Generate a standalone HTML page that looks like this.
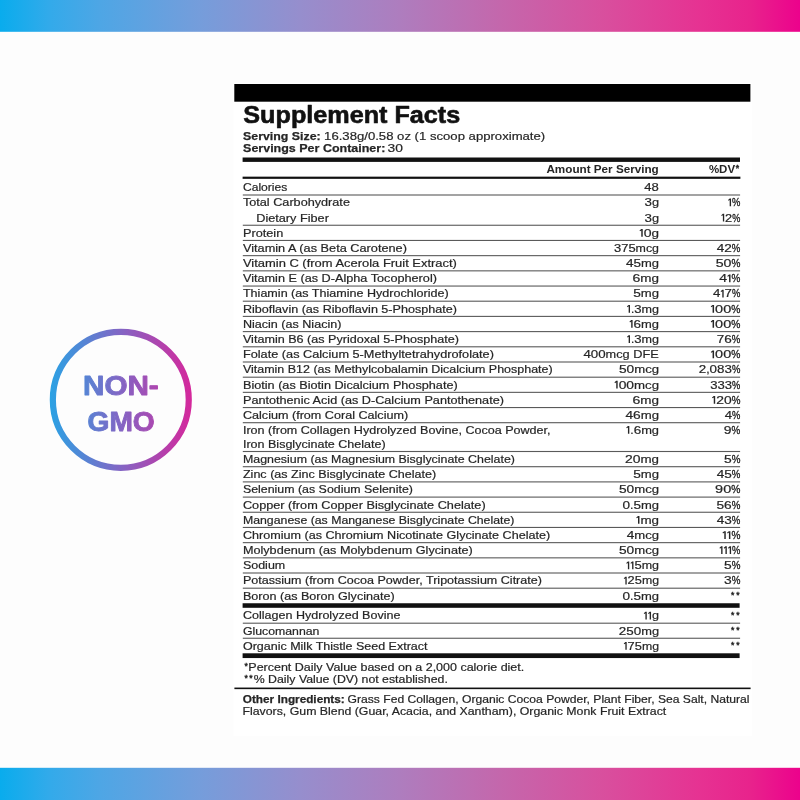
<!DOCTYPE html>
<html lang="en">
<head>
<meta charset="utf-8">
<title>Supplement Facts</title>
<style>
html,body{margin:0;padding:0;background:#fdfdfd;}
body{width:800px;height:800px;overflow:hidden;font-family:"Liberation Sans",sans-serif;}
svg{display:block;will-change:transform;}
svg text{font-family:"Liberation Sans",sans-serif;}
</style>
</head>
<body>
<svg width="800" height="800" viewBox="0 0 800 800">
<defs>
<linearGradient id="band" x1="0" y1="0" x2="1" y2="0"><stop offset="0" stop-color="rgb(9,172,237)"/><stop offset="0.0625" stop-color="rgb(51,170,234)"/><stop offset="0.125" stop-color="rgb(78,166,229)"/><stop offset="0.25" stop-color="rgb(117,157,219)"/><stop offset="0.375" stop-color="rgb(150,142,205)"/><stop offset="0.5" stop-color="rgb(174,125,190)"/><stop offset="0.625" stop-color="rgb(196,103,172)"/><stop offset="0.75" stop-color="rgb(216,80,158)"/><stop offset="0.875" stop-color="rgb(230,50,146)"/><stop offset="0.9375" stop-color="rgb(232,35,140)"/><stop offset="1" stop-color="rgb(236,2,140)"/></linearGradient>
<linearGradient id="ring" gradientUnits="userSpaceOnUse" x1="49.5" y1="0" x2="192.5" y2="0">
<stop offset="0" stop-color="#2aa2e4"/><stop offset="0.5" stop-color="#8365c4"/><stop offset="1" stop-color="#d6279b"/>
</linearGradient>
</defs>
<rect x="0" y="0" width="800" height="800" fill="#fdfdfd"/>
<rect x="0" y="0" width="800" height="31.8" fill="url(#band)"/>
<rect x="0" y="767.8" width="800" height="32.2" fill="url(#band)"/>
<rect x="233.6" y="83.2" width="518.4" height="652.8" fill="#ffffff"/>

<circle cx="120.8" cy="399.85" r="67.95" fill="none" stroke="url(#ring)" stroke-width="6.2"/>
<text x="82.97" y="395.30" font-size="27.2" font-weight="bold" textLength="75.77" lengthAdjust="spacingAndGlyphs" fill="url(#ring)" stroke="url(#ring)" stroke-width="0.9" stroke-linejoin="round">NON-</text>
<text x="87.50" y="430.50" font-size="27.2" font-weight="bold" textLength="67.24" lengthAdjust="spacingAndGlyphs" fill="url(#ring)" stroke="url(#ring)" stroke-width="0.9" stroke-linejoin="round">GMO</text>
<rect x="234.3" y="84" width="516.1" height="17.7" fill="#000"/>
<text x="243.32" y="123.10" font-size="23.2" font-weight="bold" textLength="216.91" lengthAdjust="spacingAndGlyphs" fill="#111" stroke="#111" stroke-width="0.6" stroke-linejoin="round">Supplement Facts</text>
<text x="243.07" y="140.00" font-size="11.6" font-weight="bold" textLength="77.59" lengthAdjust="spacingAndGlyphs" fill="#262626" stroke="#262626" stroke-width="0.25" stroke-linejoin="round">Serving Size:</text>
<text x="324.10" y="140.00" font-size="11.6" textLength="221.11" lengthAdjust="spacingAndGlyphs" fill="#262626" stroke="#262626" stroke-width="0.2" stroke-linejoin="round">16.38g/0.58 oz (1 scoop approximate)</text>
<text x="243.07" y="152.00" font-size="11.6" font-weight="bold" textLength="142.26" lengthAdjust="spacingAndGlyphs" fill="#262626" stroke="#262626" stroke-width="0.25" stroke-linejoin="round">Servings Per Container:</text>
<text x="387.57" y="152.00" font-size="11.6" textLength="15.37" lengthAdjust="spacingAndGlyphs" fill="#262626" stroke="#262626" stroke-width="0.2" stroke-linejoin="round">30</text>
<rect x="242.6" y="157.5" width="497.4" height="4.4" fill="#111"/>
<text x="546.41" y="172.60" font-size="10.9" font-weight="bold" textLength="112.37" lengthAdjust="spacingAndGlyphs" fill="#262626">Amount Per Serving</text>
<text x="708.91" y="172.60" font-size="10.9" font-weight="bold" textLength="26.16" lengthAdjust="spacingAndGlyphs" fill="#262626">%DV</text>
<text x="735.76" y="171.25" font-size="8.6" font-weight="bold" fill="#262626" stroke="#262626" stroke-width="0.3">*</text>
<rect x="242.6" y="176.65" width="497.8" height="2.2" fill="#111"/>
<text x="242.95" y="191.25" font-size="11.0" textLength="44.39" lengthAdjust="spacingAndGlyphs" fill="#262626" stroke="#262626" stroke-width="0.2" stroke-linejoin="round">Calories</text>
<text x="644.20" y="191.25" font-size="11.0" textLength="14.57" lengthAdjust="spacingAndGlyphs" fill="#262626" stroke="#262626" stroke-width="0.2">48</text>
<rect x="242.8" y="194.45" width="497.3" height="1.1" fill="#5a5a5a"/>
<text x="242.95" y="206.30" font-size="11.0" textLength="107.01" lengthAdjust="spacingAndGlyphs" fill="#262626" stroke="#262626" stroke-width="0.2" stroke-linejoin="round">Total Carbohydrate</text>
<text x="644.49" y="206.30" font-size="11.0" textLength="7.42" lengthAdjust="spacingAndGlyphs" fill="#262626" stroke="#262626" stroke-width="0.2">3</text><text x="651.91" y="206.30" font-size="11.0" textLength="7.11" lengthAdjust="spacingAndGlyphs" fill="#262626" stroke="#262626" stroke-width="0.2">g</text>
<path transform="translate(727.70,206.30) scale(1.014,1.000)" d="M1.95,-7.75H3.3V0H1.95V-6.3L0.8,-5.45L0.3,-6.3Z" fill="#262626"/><text x="732.00" y="206.30" font-size="11.0" textLength="8.33" lengthAdjust="spacingAndGlyphs" fill="#262626" stroke="#262626" stroke-width="0.35">%</text>
<text x="256.25" y="221.50" font-size="11.0" textLength="72.61" lengthAdjust="spacingAndGlyphs" fill="#262626" stroke="#262626" stroke-width="0.2" stroke-linejoin="round">Dietary Fiber</text>
<text x="644.49" y="221.50" font-size="11.0" textLength="7.42" lengthAdjust="spacingAndGlyphs" fill="#262626" stroke="#262626" stroke-width="0.2">3</text><text x="651.91" y="221.50" font-size="11.0" textLength="7.11" lengthAdjust="spacingAndGlyphs" fill="#262626" stroke="#262626" stroke-width="0.2">g</text>
<path transform="translate(720.96,221.50) scale(0.981,1.000)" d="M1.95,-7.75H3.3V0H1.95V-6.3L0.8,-5.45L0.3,-6.3Z" fill="#262626"/><text x="725.12" y="221.50" font-size="11.0" textLength="7.14" lengthAdjust="spacingAndGlyphs" fill="#262626" stroke="#262626" stroke-width="0.2">2</text><text x="732.26" y="221.50" font-size="11.0" textLength="8.06" lengthAdjust="spacingAndGlyphs" fill="#262626" stroke="#262626" stroke-width="0.35">%</text>
<rect x="242.8" y="224.70" width="497.3" height="1.1" fill="#5a5a5a"/>
<text x="242.95" y="236.70" font-size="11.0" textLength="40.28" lengthAdjust="spacingAndGlyphs" fill="#262626" stroke="#262626" stroke-width="0.2" stroke-linejoin="round">Protein</text>
<path transform="translate(639.18,236.70) scale(1.075,1.000)" d="M1.95,-7.75H3.3V0H1.95V-6.3L0.8,-5.45L0.3,-6.3Z" fill="#262626"/><text x="643.75" y="236.70" font-size="11.0" textLength="7.83" lengthAdjust="spacingAndGlyphs" fill="#262626" stroke="#262626" stroke-width="0.2">0</text><text x="651.57" y="236.70" font-size="11.0" textLength="7.50" lengthAdjust="spacingAndGlyphs" fill="#262626" stroke="#262626" stroke-width="0.2">g</text>
<rect x="242.8" y="239.90" width="497.3" height="1.1" fill="#5a5a5a"/>
<text x="242.95" y="251.90" font-size="11.0" textLength="163.98" lengthAdjust="spacingAndGlyphs" fill="#262626" stroke="#262626" stroke-width="0.2" stroke-linejoin="round">Vitamin A (as Beta Carotene)</text>
<text x="614.01" y="251.90" font-size="11.0" textLength="21.58" lengthAdjust="spacingAndGlyphs" fill="#262626" stroke="#262626" stroke-width="0.2">375</text><text x="635.59" y="251.90" font-size="11.0" textLength="23.41" lengthAdjust="spacingAndGlyphs" fill="#262626" stroke="#262626" stroke-width="0.2">mcg</text>
<text x="716.69" y="251.90" font-size="11.0" textLength="15.12" lengthAdjust="spacingAndGlyphs" fill="#262626" stroke="#262626" stroke-width="0.2">42</text><text x="731.81" y="251.90" font-size="11.0" textLength="8.53" lengthAdjust="spacingAndGlyphs" fill="#262626" stroke="#262626" stroke-width="0.35">%</text>
<rect x="242.8" y="255.10" width="497.3" height="1.1" fill="#5a5a5a"/>
<text x="242.95" y="267.10" font-size="11.0" textLength="214.00" lengthAdjust="spacingAndGlyphs" fill="#262626" stroke="#262626" stroke-width="0.2" stroke-linejoin="round">Vitamin C (from Acerola Fruit Extract)</text>
<text x="625.94" y="267.10" font-size="11.0" textLength="15.07" lengthAdjust="spacingAndGlyphs" fill="#262626" stroke="#262626" stroke-width="0.2">45</text><text x="641.01" y="267.10" font-size="11.0" textLength="18.03" lengthAdjust="spacingAndGlyphs" fill="#262626" stroke="#262626" stroke-width="0.2">mg</text>
<text x="715.68" y="267.10" font-size="11.0" textLength="15.77" lengthAdjust="spacingAndGlyphs" fill="#262626" stroke="#262626" stroke-width="0.2">50</text><text x="731.46" y="267.10" font-size="11.0" textLength="8.90" lengthAdjust="spacingAndGlyphs" fill="#262626" stroke="#262626" stroke-width="0.35">%</text>
<rect x="242.8" y="270.30" width="497.3" height="1.1" fill="#5a5a5a"/>
<text x="242.95" y="282.30" font-size="11.0" textLength="193.98" lengthAdjust="spacingAndGlyphs" fill="#262626" stroke="#262626" stroke-width="0.2" stroke-linejoin="round">Vitamin E (as D-Alpha Tocopherol)</text>
<text x="632.54" y="282.30" font-size="11.0" textLength="7.82" lengthAdjust="spacingAndGlyphs" fill="#262626" stroke="#262626" stroke-width="0.2">6</text><text x="640.36" y="282.30" font-size="11.0" textLength="18.71" lengthAdjust="spacingAndGlyphs" fill="#262626" stroke="#262626" stroke-width="0.2">mg</text>
<text x="719.18" y="282.30" font-size="11.0" textLength="7.81" lengthAdjust="spacingAndGlyphs" fill="#262626" stroke="#262626" stroke-width="0.2">4</text><path transform="translate(726.98,282.30) scale(1.072,1.000)" d="M1.95,-7.75H3.3V0H1.95V-6.3L0.8,-5.45L0.3,-6.3Z" fill="#262626"/><text x="731.54" y="282.30" font-size="11.0" textLength="8.81" lengthAdjust="spacingAndGlyphs" fill="#262626" stroke="#262626" stroke-width="0.35">%</text>
<rect x="242.8" y="285.50" width="497.3" height="1.1" fill="#5a5a5a"/>
<text x="242.95" y="297.45" font-size="11.0" textLength="205.73" lengthAdjust="spacingAndGlyphs" fill="#262626" stroke="#262626" stroke-width="0.2" stroke-linejoin="round">Thiamin (as Thiamine Hydrochloride)</text>
<text x="633.20" y="297.45" font-size="11.0" textLength="7.62" lengthAdjust="spacingAndGlyphs" fill="#262626" stroke="#262626" stroke-width="0.2">5</text><text x="640.82" y="297.45" font-size="11.0" textLength="18.23" lengthAdjust="spacingAndGlyphs" fill="#262626" stroke="#262626" stroke-width="0.2">mg</text>
<text x="712.95" y="297.45" font-size="11.0" textLength="7.38" lengthAdjust="spacingAndGlyphs" fill="#262626" stroke="#262626" stroke-width="0.2">4</text><path transform="translate(720.32,297.45) scale(1.013,1.000)" d="M1.95,-7.75H3.3V0H1.95V-6.3L0.8,-5.45L0.3,-6.3Z" fill="#262626"/><text x="724.63" y="297.45" font-size="11.0" textLength="7.38" lengthAdjust="spacingAndGlyphs" fill="#262626" stroke="#262626" stroke-width="0.2">7</text><text x="732.01" y="297.45" font-size="11.0" textLength="8.33" lengthAdjust="spacingAndGlyphs" fill="#262626" stroke="#262626" stroke-width="0.35">%</text>
<rect x="242.8" y="300.65" width="497.3" height="1.1" fill="#5a5a5a"/>
<text x="242.95" y="312.65" font-size="11.0" textLength="213.98" lengthAdjust="spacingAndGlyphs" fill="#262626" stroke="#262626" stroke-width="0.2" stroke-linejoin="round">Riboflavin (as Riboflavin 5-Phosphate)</text>
<path transform="translate(626.70,312.65) scale(1.002,1.000)" d="M1.95,-7.75H3.3V0H1.95V-6.3L0.8,-5.45L0.3,-6.3Z" fill="#262626"/><text x="630.96" y="312.65" font-size="11.0" textLength="3.31" lengthAdjust="spacingAndGlyphs" fill="#262626" stroke="#262626" stroke-width="0.2">.</text><text x="634.26" y="312.65" font-size="11.0" textLength="7.29" lengthAdjust="spacingAndGlyphs" fill="#262626" stroke="#262626" stroke-width="0.2">3</text><text x="641.56" y="312.65" font-size="11.0" textLength="17.45" lengthAdjust="spacingAndGlyphs" fill="#262626" stroke="#262626" stroke-width="0.2">mg</text>
<path transform="translate(710.42,312.65) scale(1.108,1.000)" d="M1.95,-7.75H3.3V0H1.95V-6.3L0.8,-5.45L0.3,-6.3Z" fill="#262626"/><text x="715.13" y="312.65" font-size="11.0" textLength="16.13" lengthAdjust="spacingAndGlyphs" fill="#262626" stroke="#262626" stroke-width="0.2">00</text><text x="731.26" y="312.65" font-size="11.0" textLength="9.10" lengthAdjust="spacingAndGlyphs" fill="#262626" stroke="#262626" stroke-width="0.35">%</text>
<rect x="242.8" y="315.85" width="497.3" height="1.1" fill="#5a5a5a"/>
<text x="242.95" y="327.85" font-size="11.0" textLength="98.48" lengthAdjust="spacingAndGlyphs" fill="#262626" stroke="#262626" stroke-width="0.2" stroke-linejoin="round">Niacin (as Niacin)</text>
<path transform="translate(629.19,327.85) scale(1.031,1.000)" d="M1.95,-7.75H3.3V0H1.95V-6.3L0.8,-5.45L0.3,-6.3Z" fill="#262626"/><text x="633.57" y="327.85" font-size="11.0" textLength="7.50" lengthAdjust="spacingAndGlyphs" fill="#262626" stroke="#262626" stroke-width="0.2">6</text><text x="641.08" y="327.85" font-size="11.0" textLength="17.96" lengthAdjust="spacingAndGlyphs" fill="#262626" stroke="#262626" stroke-width="0.2">mg</text>
<path transform="translate(710.42,327.85) scale(1.108,1.000)" d="M1.95,-7.75H3.3V0H1.95V-6.3L0.8,-5.45L0.3,-6.3Z" fill="#262626"/><text x="715.13" y="327.85" font-size="11.0" textLength="16.13" lengthAdjust="spacingAndGlyphs" fill="#262626" stroke="#262626" stroke-width="0.2">00</text><text x="731.26" y="327.85" font-size="11.0" textLength="9.10" lengthAdjust="spacingAndGlyphs" fill="#262626" stroke="#262626" stroke-width="0.35">%</text>
<rect x="242.8" y="331.05" width="497.3" height="1.1" fill="#5a5a5a"/>
<text x="242.95" y="343.05" font-size="11.0" textLength="215.98" lengthAdjust="spacingAndGlyphs" fill="#262626" stroke="#262626" stroke-width="0.2" stroke-linejoin="round">Vitamin B6 (as Pyridoxal 5-Phosphate)</text>
<path transform="translate(626.70,343.05) scale(1.002,1.000)" d="M1.95,-7.75H3.3V0H1.95V-6.3L0.8,-5.45L0.3,-6.3Z" fill="#262626"/><text x="630.96" y="343.05" font-size="11.0" textLength="3.31" lengthAdjust="spacingAndGlyphs" fill="#262626" stroke="#262626" stroke-width="0.2">.</text><text x="634.26" y="343.05" font-size="11.0" textLength="7.29" lengthAdjust="spacingAndGlyphs" fill="#262626" stroke="#262626" stroke-width="0.2">3</text><text x="641.56" y="343.05" font-size="11.0" textLength="17.45" lengthAdjust="spacingAndGlyphs" fill="#262626" stroke="#262626" stroke-width="0.2">mg</text>
<text x="716.81" y="343.05" font-size="11.0" textLength="15.04" lengthAdjust="spacingAndGlyphs" fill="#262626" stroke="#262626" stroke-width="0.2">76</text><text x="731.85" y="343.05" font-size="11.0" textLength="8.49" lengthAdjust="spacingAndGlyphs" fill="#262626" stroke="#262626" stroke-width="0.35">%</text>
<rect x="242.8" y="346.25" width="497.3" height="1.1" fill="#5a5a5a"/>
<text x="242.95" y="358.25" font-size="11.0" textLength="250.99" lengthAdjust="spacingAndGlyphs" fill="#262626" stroke="#262626" stroke-width="0.2" stroke-linejoin="round">Folate (as Calcium 5-Methyltetrahydrofolate)</text>
<text x="583.44" y="358.25" font-size="11.0" textLength="22.20" lengthAdjust="spacingAndGlyphs" fill="#262626" stroke="#262626" stroke-width="0.2">400</text><text x="605.64" y="358.25" font-size="11.0" textLength="53.11" lengthAdjust="spacingAndGlyphs" fill="#262626" stroke="#262626" stroke-width="0.2">mcg DFE</text>
<path transform="translate(710.42,358.25) scale(1.108,1.000)" d="M1.95,-7.75H3.3V0H1.95V-6.3L0.8,-5.45L0.3,-6.3Z" fill="#262626"/><text x="715.13" y="358.25" font-size="11.0" textLength="16.13" lengthAdjust="spacingAndGlyphs" fill="#262626" stroke="#262626" stroke-width="0.2">00</text><text x="731.26" y="358.25" font-size="11.0" textLength="9.10" lengthAdjust="spacingAndGlyphs" fill="#262626" stroke="#262626" stroke-width="0.35">%</text>
<rect x="242.8" y="361.45" width="497.3" height="1.1" fill="#5a5a5a"/>
<text x="242.95" y="373.45" font-size="11.0" textLength="309.72" lengthAdjust="spacingAndGlyphs" fill="#262626" stroke="#262626" stroke-width="0.2" stroke-linejoin="round">Vitamin B12 (as Methylcobalamin Dicalcium Phosphate)</text>
<text x="618.95" y="373.45" font-size="11.0" textLength="15.26" lengthAdjust="spacingAndGlyphs" fill="#262626" stroke="#262626" stroke-width="0.2">50</text><text x="634.21" y="373.45" font-size="11.0" textLength="24.83" lengthAdjust="spacingAndGlyphs" fill="#262626" stroke="#262626" stroke-width="0.2">mcg</text>
<text x="698.83" y="373.45" font-size="11.0" textLength="7.44" lengthAdjust="spacingAndGlyphs" fill="#262626" stroke="#262626" stroke-width="0.2">2</text><text x="706.26" y="373.45" font-size="11.0" textLength="3.37" lengthAdjust="spacingAndGlyphs" fill="#262626" stroke="#262626" stroke-width="0.2">,</text><text x="709.64" y="373.45" font-size="11.0" textLength="22.31" lengthAdjust="spacingAndGlyphs" fill="#262626" stroke="#262626" stroke-width="0.2">083</text><text x="731.94" y="373.45" font-size="11.0" textLength="8.39" lengthAdjust="spacingAndGlyphs" fill="#262626" stroke="#262626" stroke-width="0.35">%</text>
<rect x="242.8" y="376.65" width="497.3" height="1.1" fill="#5a5a5a"/>
<text x="242.95" y="388.60" font-size="11.0" textLength="214.74" lengthAdjust="spacingAndGlyphs" fill="#262626" stroke="#262626" stroke-width="0.2" stroke-linejoin="round">Biotin (as Biotin Dicalcium Phosphate)</text>
<path transform="translate(614.18,388.60) scale(1.056,1.000)" d="M1.95,-7.75H3.3V0H1.95V-6.3L0.8,-5.45L0.3,-6.3Z" fill="#262626"/><text x="618.67" y="388.60" font-size="11.0" textLength="15.37" lengthAdjust="spacingAndGlyphs" fill="#262626" stroke="#262626" stroke-width="0.2">00</text><text x="634.04" y="388.60" font-size="11.0" textLength="25.01" lengthAdjust="spacingAndGlyphs" fill="#262626" stroke="#262626" stroke-width="0.2">mcg</text>
<text x="710.25" y="388.60" font-size="11.0" textLength="21.86" lengthAdjust="spacingAndGlyphs" fill="#262626" stroke="#262626" stroke-width="0.2">333</text><text x="732.11" y="388.60" font-size="11.0" textLength="8.22" lengthAdjust="spacingAndGlyphs" fill="#262626" stroke="#262626" stroke-width="0.35">%</text>
<rect x="242.8" y="391.80" width="497.3" height="1.1" fill="#5a5a5a"/>
<text x="242.95" y="403.80" font-size="11.0" textLength="260.98" lengthAdjust="spacingAndGlyphs" fill="#262626" stroke="#262626" stroke-width="0.2" stroke-linejoin="round">Pantothenic Acid (as D-Calcium Pantothenate)</text>
<text x="632.54" y="403.80" font-size="11.0" textLength="7.82" lengthAdjust="spacingAndGlyphs" fill="#262626" stroke="#262626" stroke-width="0.2">6</text><text x="640.36" y="403.80" font-size="11.0" textLength="18.71" lengthAdjust="spacingAndGlyphs" fill="#262626" stroke="#262626" stroke-width="0.2">mg</text>
<path transform="translate(711.68,403.80) scale(1.061,1.000)" d="M1.95,-7.75H3.3V0H1.95V-6.3L0.8,-5.45L0.3,-6.3Z" fill="#262626"/><text x="716.19" y="403.80" font-size="11.0" textLength="15.44" lengthAdjust="spacingAndGlyphs" fill="#262626" stroke="#262626" stroke-width="0.2">20</text><text x="731.63" y="403.80" font-size="11.0" textLength="8.71" lengthAdjust="spacingAndGlyphs" fill="#262626" stroke="#262626" stroke-width="0.35">%</text>
<rect x="242.8" y="407.00" width="497.3" height="1.1" fill="#5a5a5a"/>
<text x="242.95" y="418.95" font-size="11.0" textLength="165.23" lengthAdjust="spacingAndGlyphs" fill="#262626" stroke="#262626" stroke-width="0.2" stroke-linejoin="round">Calcium (from Coral Calcium)</text>
<text x="625.43" y="418.95" font-size="11.0" textLength="15.30" lengthAdjust="spacingAndGlyphs" fill="#262626" stroke="#262626" stroke-width="0.2">46</text><text x="640.74" y="418.95" font-size="11.0" textLength="18.31" lengthAdjust="spacingAndGlyphs" fill="#262626" stroke="#262626" stroke-width="0.2">mg</text>
<text x="724.70" y="418.95" font-size="11.0" textLength="7.35" lengthAdjust="spacingAndGlyphs" fill="#262626" stroke="#262626" stroke-width="0.2">4</text><text x="732.04" y="418.95" font-size="11.0" textLength="8.29" lengthAdjust="spacingAndGlyphs" fill="#262626" stroke="#262626" stroke-width="0.35">%</text>
<rect x="242.8" y="422.15" width="497.3" height="1.1" fill="#5a5a5a"/>
<text x="242.95" y="433.80" font-size="11.0" textLength="307.57" lengthAdjust="spacingAndGlyphs" fill="#262626" stroke="#262626" stroke-width="0.2" stroke-linejoin="round">Iron (from Collagen Hydrolyzed Bovine, Cocoa Powder,</text>
<path transform="translate(625.94,433.80) scale(1.026,1.000)" d="M1.95,-7.75H3.3V0H1.95V-6.3L0.8,-5.45L0.3,-6.3Z" fill="#262626"/><text x="630.30" y="433.80" font-size="11.0" textLength="3.39" lengthAdjust="spacingAndGlyphs" fill="#262626" stroke="#262626" stroke-width="0.2">.</text><text x="633.69" y="433.80" font-size="11.0" textLength="7.47" lengthAdjust="spacingAndGlyphs" fill="#262626" stroke="#262626" stroke-width="0.2">6</text><text x="641.16" y="433.80" font-size="11.0" textLength="17.87" lengthAdjust="spacingAndGlyphs" fill="#262626" stroke="#262626" stroke-width="0.2">mg</text>
<text x="723.85" y="433.80" font-size="11.0" textLength="7.75" lengthAdjust="spacingAndGlyphs" fill="#262626" stroke="#262626" stroke-width="0.2">9</text><text x="731.60" y="433.80" font-size="11.0" textLength="8.75" lengthAdjust="spacingAndGlyphs" fill="#262626" stroke="#262626" stroke-width="0.35">%</text>
<text x="242.95" y="447.75" font-size="11.0" textLength="142.73" lengthAdjust="spacingAndGlyphs" fill="#262626" stroke="#262626" stroke-width="0.2" stroke-linejoin="round">Iron Bisglycinate Chelate)</text>
<rect x="242.8" y="450.95" width="497.3" height="1.1" fill="#5a5a5a"/>
<text x="242.95" y="462.95" font-size="11.0" textLength="271.97" lengthAdjust="spacingAndGlyphs" fill="#262626" stroke="#262626" stroke-width="0.2" stroke-linejoin="round">Magnesium (as Magnesium Bisglycinate Chelate)</text>
<text x="625.05" y="462.95" font-size="11.0" textLength="15.48" lengthAdjust="spacingAndGlyphs" fill="#262626" stroke="#262626" stroke-width="0.2">20</text><text x="640.53" y="462.95" font-size="11.0" textLength="18.53" lengthAdjust="spacingAndGlyphs" fill="#262626" stroke="#262626" stroke-width="0.2">mg</text>
<text x="723.95" y="462.95" font-size="11.0" textLength="7.71" lengthAdjust="spacingAndGlyphs" fill="#262626" stroke="#262626" stroke-width="0.2">5</text><text x="731.65" y="462.95" font-size="11.0" textLength="8.70" lengthAdjust="spacingAndGlyphs" fill="#262626" stroke="#262626" stroke-width="0.35">%</text>
<rect x="242.8" y="466.15" width="497.3" height="1.1" fill="#5a5a5a"/>
<text x="242.95" y="478.15" font-size="11.0" textLength="193.23" lengthAdjust="spacingAndGlyphs" fill="#262626" stroke="#262626" stroke-width="0.2" stroke-linejoin="round">Zinc (as Zinc Bisglycinate Chelate)</text>
<text x="633.20" y="478.15" font-size="11.0" textLength="7.62" lengthAdjust="spacingAndGlyphs" fill="#262626" stroke="#262626" stroke-width="0.2">5</text><text x="640.82" y="478.15" font-size="11.0" textLength="18.23" lengthAdjust="spacingAndGlyphs" fill="#262626" stroke="#262626" stroke-width="0.2">mg</text>
<text x="716.69" y="478.15" font-size="11.0" textLength="15.12" lengthAdjust="spacingAndGlyphs" fill="#262626" stroke="#262626" stroke-width="0.2">45</text><text x="731.81" y="478.15" font-size="11.0" textLength="8.53" lengthAdjust="spacingAndGlyphs" fill="#262626" stroke="#262626" stroke-width="0.35">%</text>
<rect x="242.8" y="481.35" width="497.3" height="1.1" fill="#5a5a5a"/>
<text x="242.95" y="493.35" font-size="11.0" textLength="169.97" lengthAdjust="spacingAndGlyphs" fill="#262626" stroke="#262626" stroke-width="0.2" stroke-linejoin="round">Selenium (as Sodium Selenite)</text>
<text x="618.95" y="493.35" font-size="11.0" textLength="15.26" lengthAdjust="spacingAndGlyphs" fill="#262626" stroke="#262626" stroke-width="0.2">50</text><text x="634.21" y="493.35" font-size="11.0" textLength="24.83" lengthAdjust="spacingAndGlyphs" fill="#262626" stroke="#262626" stroke-width="0.2">mcg</text>
<text x="715.07" y="493.35" font-size="11.0" textLength="16.17" lengthAdjust="spacingAndGlyphs" fill="#262626" stroke="#262626" stroke-width="0.2">90</text><text x="731.24" y="493.35" font-size="11.0" textLength="9.13" lengthAdjust="spacingAndGlyphs" fill="#262626" stroke="#262626" stroke-width="0.35">%</text>
<rect x="242.8" y="496.55" width="497.3" height="1.1" fill="#5a5a5a"/>
<text x="242.95" y="508.50" font-size="11.0" textLength="242.74" lengthAdjust="spacingAndGlyphs" fill="#262626" stroke="#262626" stroke-width="0.2" stroke-linejoin="round">Copper (from Copper Bisglycinate Chelate)</text>
<text x="622.47" y="508.50" font-size="11.0" textLength="7.55" lengthAdjust="spacingAndGlyphs" fill="#262626" stroke="#262626" stroke-width="0.2">0</text><text x="630.02" y="508.50" font-size="11.0" textLength="3.42" lengthAdjust="spacingAndGlyphs" fill="#262626" stroke="#262626" stroke-width="0.2">.</text><text x="633.44" y="508.50" font-size="11.0" textLength="7.55" lengthAdjust="spacingAndGlyphs" fill="#262626" stroke="#262626" stroke-width="0.2">5</text><text x="640.98" y="508.50" font-size="11.0" textLength="18.06" lengthAdjust="spacingAndGlyphs" fill="#262626" stroke="#262626" stroke-width="0.2">mg</text>
<text x="716.45" y="508.50" font-size="11.0" textLength="15.28" lengthAdjust="spacingAndGlyphs" fill="#262626" stroke="#262626" stroke-width="0.2">56</text><text x="731.73" y="508.50" font-size="11.0" textLength="8.62" lengthAdjust="spacingAndGlyphs" fill="#262626" stroke="#262626" stroke-width="0.35">%</text>
<rect x="242.8" y="511.70" width="497.3" height="1.1" fill="#5a5a5a"/>
<text x="242.95" y="523.70" font-size="11.0" textLength="271.46" lengthAdjust="spacingAndGlyphs" fill="#262626" stroke="#262626" stroke-width="0.2" stroke-linejoin="round">Manganese (as Manganese Bisglycinate Chelate)</text>
<path transform="translate(635.93,523.70) scale(1.068,1.000)" d="M1.95,-7.75H3.3V0H1.95V-6.3L0.8,-5.45L0.3,-6.3Z" fill="#262626"/><text x="640.47" y="523.70" font-size="11.0" textLength="18.60" lengthAdjust="spacingAndGlyphs" fill="#262626" stroke="#262626" stroke-width="0.2">mg</text>
<text x="716.69" y="523.70" font-size="11.0" textLength="15.12" lengthAdjust="spacingAndGlyphs" fill="#262626" stroke="#262626" stroke-width="0.2">43</text><text x="731.81" y="523.70" font-size="11.0" textLength="8.53" lengthAdjust="spacingAndGlyphs" fill="#262626" stroke="#262626" stroke-width="0.35">%</text>
<rect x="242.8" y="526.90" width="497.3" height="1.1" fill="#5a5a5a"/>
<text x="242.95" y="538.90" font-size="11.0" textLength="307.23" lengthAdjust="spacingAndGlyphs" fill="#262626" stroke="#262626" stroke-width="0.2" stroke-linejoin="round">Chromium (as Chromium Nicotinate Glycinate Chelate)</text>
<text x="626.69" y="538.90" font-size="11.0" textLength="7.61" lengthAdjust="spacingAndGlyphs" fill="#262626" stroke="#262626" stroke-width="0.2">4</text><text x="634.29" y="538.90" font-size="11.0" textLength="24.75" lengthAdjust="spacingAndGlyphs" fill="#262626" stroke="#262626" stroke-width="0.2">mcg</text>
<path transform="translate(722.17,538.90) scale(1.088,1.000)" d="M1.95,-7.75H3.3V0H1.95V-6.3L0.8,-5.45L0.3,-6.3Z" fill="#262626"/><path transform="translate(726.80,538.90) scale(1.088,1.000)" d="M1.95,-7.75H3.3V0H1.95V-6.3L0.8,-5.45L0.3,-6.3Z" fill="#262626"/><text x="731.42" y="538.90" font-size="11.0" textLength="8.94" lengthAdjust="spacingAndGlyphs" fill="#262626" stroke="#262626" stroke-width="0.35">%</text>
<rect x="242.8" y="542.10" width="497.3" height="1.1" fill="#5a5a5a"/>
<text x="242.95" y="554.10" font-size="11.0" textLength="229.73" lengthAdjust="spacingAndGlyphs" fill="#262626" stroke="#262626" stroke-width="0.2" stroke-linejoin="round">Molybdenum (as Molybdenum Glycinate)</text>
<text x="618.95" y="554.10" font-size="11.0" textLength="15.26" lengthAdjust="spacingAndGlyphs" fill="#262626" stroke="#262626" stroke-width="0.2">50</text><text x="634.21" y="554.10" font-size="11.0" textLength="24.83" lengthAdjust="spacingAndGlyphs" fill="#262626" stroke="#262626" stroke-width="0.2">mcg</text>
<path transform="translate(719.20,554.10) scale(1.008,1.000)" d="M1.95,-7.75H3.3V0H1.95V-6.3L0.8,-5.45L0.3,-6.3Z" fill="#262626"/><path transform="translate(723.48,554.10) scale(1.008,1.000)" d="M1.95,-7.75H3.3V0H1.95V-6.3L0.8,-5.45L0.3,-6.3Z" fill="#262626"/><path transform="translate(727.77,554.10) scale(1.008,1.000)" d="M1.95,-7.75H3.3V0H1.95V-6.3L0.8,-5.45L0.3,-6.3Z" fill="#262626"/><text x="732.05" y="554.10" font-size="11.0" textLength="8.28" lengthAdjust="spacingAndGlyphs" fill="#262626" stroke="#262626" stroke-width="0.35">%</text>
<rect x="242.8" y="557.30" width="497.3" height="1.1" fill="#5a5a5a"/>
<text x="242.95" y="569.25" font-size="11.0" textLength="42.27" lengthAdjust="spacingAndGlyphs" fill="#262626" stroke="#262626" stroke-width="0.2" stroke-linejoin="round">Sodium</text>
<path transform="translate(625.95,569.25) scale(0.996,1.000)" d="M1.95,-7.75H3.3V0H1.95V-6.3L0.8,-5.45L0.3,-6.3Z" fill="#262626"/><path transform="translate(630.18,569.25) scale(0.996,1.000)" d="M1.95,-7.75H3.3V0H1.95V-6.3L0.8,-5.45L0.3,-6.3Z" fill="#262626"/><text x="634.41" y="569.25" font-size="11.0" textLength="7.25" lengthAdjust="spacingAndGlyphs" fill="#262626" stroke="#262626" stroke-width="0.2">5</text><text x="641.66" y="569.25" font-size="11.0" textLength="17.34" lengthAdjust="spacingAndGlyphs" fill="#262626" stroke="#262626" stroke-width="0.2">mg</text>
<text x="723.95" y="569.25" font-size="11.0" textLength="7.71" lengthAdjust="spacingAndGlyphs" fill="#262626" stroke="#262626" stroke-width="0.2">5</text><text x="731.65" y="569.25" font-size="11.0" textLength="8.70" lengthAdjust="spacingAndGlyphs" fill="#262626" stroke="#262626" stroke-width="0.35">%</text>
<rect x="242.8" y="572.45" width="497.3" height="1.1" fill="#5a5a5a"/>
<text x="242.95" y="584.45" font-size="11.0" textLength="298.97" lengthAdjust="spacingAndGlyphs" fill="#262626" stroke="#262626" stroke-width="0.2" stroke-linejoin="round">Potassium (from Cocoa Powder, Tripotassium Citrate)</text>
<path transform="translate(623.46,584.45) scale(0.981,1.000)" d="M1.95,-7.75H3.3V0H1.95V-6.3L0.8,-5.45L0.3,-6.3Z" fill="#262626"/><text x="627.62" y="584.45" font-size="11.0" textLength="14.28" lengthAdjust="spacingAndGlyphs" fill="#262626" stroke="#262626" stroke-width="0.2">25</text><text x="641.91" y="584.45" font-size="11.0" textLength="17.09" lengthAdjust="spacingAndGlyphs" fill="#262626" stroke="#262626" stroke-width="0.2">mg</text>
<text x="723.97" y="584.45" font-size="11.0" textLength="7.69" lengthAdjust="spacingAndGlyphs" fill="#262626" stroke="#262626" stroke-width="0.2">3</text><text x="731.67" y="584.45" font-size="11.0" textLength="8.68" lengthAdjust="spacingAndGlyphs" fill="#262626" stroke="#262626" stroke-width="0.35">%</text>
<rect x="242.8" y="587.65" width="497.3" height="1.1" fill="#5a5a5a"/>
<text x="242.95" y="599.50" font-size="11.0" textLength="151.73" lengthAdjust="spacingAndGlyphs" fill="#262626" stroke="#262626" stroke-width="0.2" stroke-linejoin="round">Boron (as Boron Glycinate)</text>
<text x="622.47" y="599.50" font-size="11.0" textLength="7.55" lengthAdjust="spacingAndGlyphs" fill="#262626" stroke="#262626" stroke-width="0.2">0</text><text x="630.02" y="599.50" font-size="11.0" textLength="3.42" lengthAdjust="spacingAndGlyphs" fill="#262626" stroke="#262626" stroke-width="0.2">.</text><text x="633.44" y="599.50" font-size="11.0" textLength="7.55" lengthAdjust="spacingAndGlyphs" fill="#262626" stroke="#262626" stroke-width="0.2">5</text><text x="640.98" y="599.50" font-size="11.0" textLength="18.06" lengthAdjust="spacingAndGlyphs" fill="#262626" stroke="#262626" stroke-width="0.2">mg</text>
<text x="731.06" y="597.60" font-size="8.6" fill="#262626" stroke="#262626" stroke-width="0.45">*</text><text x="736.26" y="597.60" font-size="8.6" fill="#262626" stroke="#262626" stroke-width="0.45">*</text>
<rect x="242.6" y="603.25" width="497.0" height="4.55" fill="#111"/>
<text x="242.95" y="619.45" font-size="11.0" textLength="157.51" lengthAdjust="spacingAndGlyphs" fill="#262626" stroke="#262626" stroke-width="0.2" stroke-linejoin="round">Collagen Hydrolyzed Bovine</text>
<path transform="translate(643.45,619.45) scale(1.006,1.000)" d="M1.95,-7.75H3.3V0H1.95V-6.3L0.8,-5.45L0.3,-6.3Z" fill="#262626"/><path transform="translate(647.72,619.45) scale(1.006,1.000)" d="M1.95,-7.75H3.3V0H1.95V-6.3L0.8,-5.45L0.3,-6.3Z" fill="#262626"/><text x="652.00" y="619.45" font-size="11.0" textLength="7.01" lengthAdjust="spacingAndGlyphs" fill="#262626" stroke="#262626" stroke-width="0.2">g</text>
<text x="731.06" y="617.55" font-size="8.6" fill="#262626" stroke="#262626" stroke-width="0.45">*</text><text x="736.26" y="617.55" font-size="8.6" fill="#262626" stroke="#262626" stroke-width="0.45">*</text>
<rect x="242.8" y="622.65" width="497.3" height="1.1" fill="#5a5a5a"/>
<text x="242.95" y="634.50" font-size="11.0" textLength="76.50" lengthAdjust="spacingAndGlyphs" fill="#262626" stroke="#262626" stroke-width="0.2" stroke-linejoin="round">Glucomannan</text>
<text x="618.83" y="634.50" font-size="11.0" textLength="22.36" lengthAdjust="spacingAndGlyphs" fill="#262626" stroke="#262626" stroke-width="0.2">250</text><text x="641.19" y="634.50" font-size="11.0" textLength="17.84" lengthAdjust="spacingAndGlyphs" fill="#262626" stroke="#262626" stroke-width="0.2">mg</text>
<text x="731.06" y="632.60" font-size="8.6" fill="#262626" stroke="#262626" stroke-width="0.45">*</text><text x="736.26" y="632.60" font-size="8.6" fill="#262626" stroke="#262626" stroke-width="0.45">*</text>
<rect x="242.8" y="637.70" width="497.3" height="1.1" fill="#5a5a5a"/>
<text x="242.95" y="649.70" font-size="11.0" textLength="184.54" lengthAdjust="spacingAndGlyphs" fill="#262626" stroke="#262626" stroke-width="0.2" stroke-linejoin="round">Organic Milk Thistle Seed Extract</text>
<path transform="translate(623.46,649.70) scale(0.981,1.000)" d="M1.95,-7.75H3.3V0H1.95V-6.3L0.8,-5.45L0.3,-6.3Z" fill="#262626"/><text x="627.62" y="649.70" font-size="11.0" textLength="14.28" lengthAdjust="spacingAndGlyphs" fill="#262626" stroke="#262626" stroke-width="0.2">75</text><text x="641.91" y="649.70" font-size="11.0" textLength="17.09" lengthAdjust="spacingAndGlyphs" fill="#262626" stroke="#262626" stroke-width="0.2">mg</text>
<text x="731.06" y="647.80" font-size="8.6" fill="#262626" stroke="#262626" stroke-width="0.45">*</text><text x="736.26" y="647.80" font-size="8.6" fill="#262626" stroke="#262626" stroke-width="0.45">*</text>
<rect x="242.6" y="653.30" width="497.0" height="4.75" fill="#111"/>
<text x="244.56" y="668.95" font-size="8.6" fill="#262626" stroke="#262626" stroke-width="0.45">*</text>
<text x="248.33" y="670.80" font-size="11.0" textLength="275.91" lengthAdjust="spacingAndGlyphs" fill="#262626" stroke="#262626" stroke-width="0.2" stroke-linejoin="round">Percent Daily Value based on a 2,000 calorie diet.</text>
<text x="244.56" y="680.65" font-size="8.6" fill="#262626" stroke="#262626" stroke-width="0.45">*</text>
<text x="249.26" y="680.65" font-size="8.6" fill="#262626" stroke="#262626" stroke-width="0.45">*</text>
<text x="253.76" y="682.50" font-size="11.0" textLength="194.06" lengthAdjust="spacingAndGlyphs" fill="#262626" stroke="#262626" stroke-width="0.2" stroke-linejoin="round">% Daily Value (DV) not established.</text>
<rect x="234.4" y="687.55" width="516.2" height="1.6" fill="#111"/>
<text x="242.79" y="702.60" font-size="11.0" font-weight="bold" textLength="101.96" lengthAdjust="spacingAndGlyphs" fill="#262626" stroke="#262626" stroke-width="0.25" stroke-linejoin="round">Other Ingredients:</text>
<text x="347.59" y="702.60" font-size="11.0" textLength="401.91" lengthAdjust="spacingAndGlyphs" fill="#262626" stroke="#262626" stroke-width="0.2" stroke-linejoin="round">Grass Fed Collagen, Organic Cocoa Powder, Plant Fiber, Sea Salt, Natural</text>
<text x="242.49" y="714.80" font-size="11.0" textLength="423.80" lengthAdjust="spacingAndGlyphs" fill="#262626" stroke="#262626" stroke-width="0.2" stroke-linejoin="round">Flavors, Gum Blend (Guar, Acacia, and Xantham), Organic Monk Fruit Extract</text>
</svg>
</body>
</html>
